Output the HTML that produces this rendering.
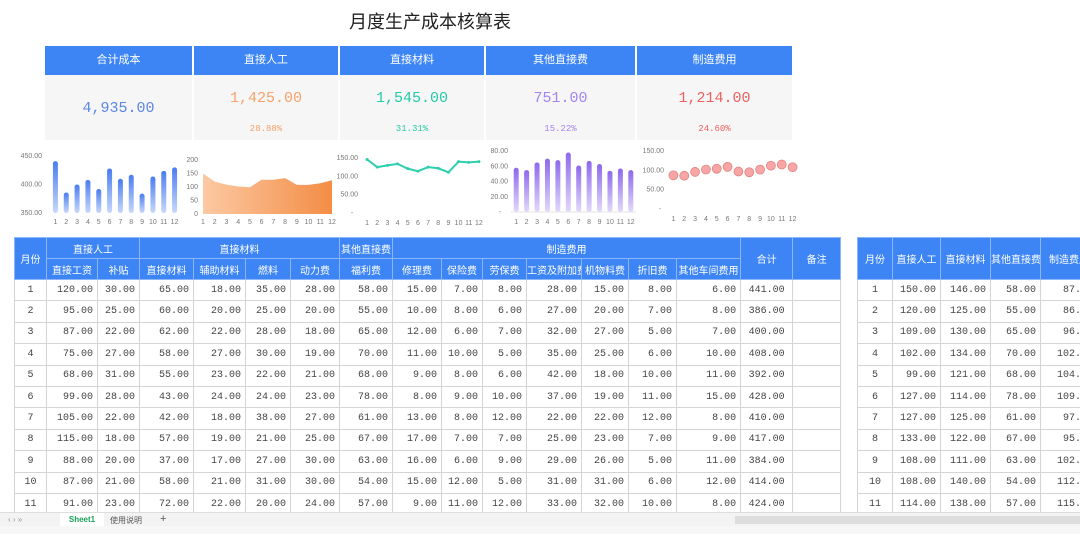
<!DOCTYPE html>
<html><head><meta charset="utf-8">
<style>
*{margin:0;padding:0;box-sizing:border-box}
body{width:1080px;height:534px;overflow:hidden;background:#fff;font-family:"Liberation Mono","Noto Sans CJK SC",monospace;position:relative}
.a{position:absolute}
.title{left:0;width:860px;top:8px;text-align:center;font:18px "Liberation Sans","Noto Sans CJK SC",sans-serif;color:#222}
.ch{background:#3d85f5;color:#fff;font:11px "Liberation Sans","Noto Sans CJK SC",sans-serif;text-align:center;line-height:29px;top:46px;height:29px}
.cv{background:#f6f6f6;top:75px;height:65px;text-align:center}
table{border-collapse:collapse;position:absolute;table-layout:fixed}
td,th{border:1px solid #d4d4d4;font-size:10px;height:21.4px;text-align:right;padding-right:4px;color:#444;white-space:nowrap;overflow:hidden}
th{background:#3d85f5;color:#fff;font-weight:normal;text-align:center;padding:0;border-color:#8db6fa;font-family:"Liberation Sans","Noto Sans CJK SC",sans-serif;height:21px}
td.c{text-align:center;padding:0}
</style></head><body>
<div class="a title">月度生产成本核算表</div>
<div id="cards"></div>
<svg id="charts" class="a" style="left:0;top:140px" width="860" height="95"></svg>
<table id="main" style="left:14px;top:237px;width:826px"></table>
<table id="side" style="left:857px;top:237px;width:240px"></table>
<div class="a" style="left:0;top:512px;width:1080px;height:14px;background:#f3f3f3;border-top:1px solid #ddd;font:8px 'Liberation Sans','Noto Sans CJK SC',sans-serif;color:#999">
<span class="a" style="left:8px;top:2px">‹ › »</span>
<span class="a" style="left:60px;top:0;width:44px;height:13px;background:#fff;color:#1aa35a;text-align:center;line-height:13px;font-weight:bold">Sheet1</span>
<span class="a" style="left:110px;top:2px;color:#555">使用说明</span>
<span class="a" style="left:160px;top:0;font-size:11px;color:#555">+</span>
<div class="a" style="left:735px;top:3px;width:345px;height:8px;background:#ddd"></div>
</div>
<div class="a" style="left:0;top:526px;width:1080px;height:8px;background:#f7f7f7"></div>
<script>
const NS='http://www.w3.org/2000/svg';
const months=['1','2','3','4','5','6','7','8','9','10','11','12'];
const totals=[441,386,400,408,392,428,410,417,384,414,424,430];
const labor=[150,120,109,102,99,127,127,133,108,108,114,125];
const material=[146,125,130,134,121,114,125,122,111,140,138,140];
const otherDirect=[58,55,65,70,68,78,61,67,63,54,57,55];
const manuf=[87,86,96,102,104,109,97,95,102,112,115,108];
const cardTitles=['合计成本','直接人工','直接材料','其他直接费','制造费用'];
const cardValues=['4,935.00','1,425.00','1,545.00','751.00','1,214.00'];
const cardPcts=['','28.88%','31.31%','15.22%','24.60%'];
const cardColors=['#5b86e5','#f5a26b','#25c9a8','#a385f0','#ef6060'];
const cardX=[[45,192],[194,338],[340,484],[486,635],[637,792]];
const cards=document.getElementById('cards');
cardTitles.forEach((t,i)=>{
 const h=document.createElement('div');h.className='a ch';
 h.style.left=cardX[i][0]+'px';h.style.width=(cardX[i][1]-cardX[i][0])+'px';h.textContent=t;
 
 
 cards.appendChild(h);
 const v=document.createElement('div');v.className='a cv';
 v.style.left=cardX[i][0]+'px';v.style.width=(cardX[i][1]-cardX[i][0])+'px';
 
 
 const big=cardPcts[i]?`<div style="position:absolute;top:15px;width:100%;font-size:15px;color:${cardColors[i]}">${cardValues[i]}</div><div style="position:absolute;top:49px;width:100%;font-size:9px;color:${cardColors[i]}">${cardPcts[i]}</div>`:`<div style="position:absolute;top:25px;width:100%;font-size:15px;color:${cardColors[i]}">${cardValues[i]}</div>`;
 v.innerHTML=big;cards.appendChild(v);
});
const svg=document.getElementById('charts');
function el(tag,attrs,parent){const e=document.createElementNS(NS,tag);for(const k in attrs)e.setAttribute(k,attrs[k]);(parent||svg).appendChild(e);return e;}
function txt(x,y,s,anchor){const t=el('text',{x:x,y:y,'font-size':7,fill:'#777','text-anchor':anchor||'middle','font-family':'Liberation Sans,sans-serif'});t.textContent=s;return t;}
const defs=el('defs',{});
defs.innerHTML='<linearGradient id="gb" x1="0" y1="0" x2="0" y2="1"><stop offset="0" stop-color="#4a7cf0"/><stop offset="1" stop-color="#c8d8fb"/></linearGradient><linearGradient id="go" x1="0" y1="0" x2="1" y2="0"><stop offset="0" stop-color="#fcc9a3"/><stop offset="1" stop-color="#f38d45"/></linearGradient><linearGradient id="gp" x1="0" y1="0" x2="0" y2="1"><stop offset="0" stop-color="#8d68ec"/><stop offset="1" stop-color="#e3d9fb"/></linearGradient>';
function axis(x0,x1,yT,yB,mn,mx){return {x:i=>x0+(i+0.5)*(x1-x0)/12,y:v=>yB-(v-mn)/(mx-mn)*(yB-yT)};}
function xlabels(a,y){months.forEach((m,i)=>txt(a.x(i),y,m));}
let A=axis(50,180,16,73,350,450);
[[450,'450.00'],[400,'400.00'],[350,'350.00']].forEach(t=>txt(42,A.y(t[0])+2,t[1],'end'));
totals.forEach((v,i)=>{const r=el('rect',{x:A.x(i)-2.5,y:A.y(v),width:5,height:73-A.y(v),rx:2.5,fill:'url(#gb)'});
});
xlabels(A,84);
A=axis(197,338,20,74,0,200);
[200,150,100,50,0].forEach(v=>txt(198,A.y(v)+2,String(v),'end'));
{const ax=i=>203+i*(332-203)/11;
let d='M'+ax(0)+' 74';labor.forEach((v,i)=>d+=' L'+ax(i)+' '+A.y(v));d+=' L'+ax(11)+' 74Z';
const p=el('path',{d:d,fill:'url(#go)'});
months.forEach((m,i)=>txt(ax(i),84,m));}
A=axis(362,484,18,73,0,150);
[[150,'150.00'],[100,'100.00'],[50,'50.00']].forEach(t=>txt(358,A.y(t[0])+2,t[1],'end'));txt(352,75,'-');
{let d='';material.forEach((v,i)=>d+=(i?' L':'M')+A.x(i)+' '+A.y(v));
const p=el('path',{d:d,fill:'none',stroke:'#2dcfae','stroke-width':2});
material.forEach((v,i)=>el('circle',{cx:A.x(i),cy:A.y(v),r:1.5,fill:'#2dcfae'}));}
xlabels(A,85);
A=axis(511,636,11,72,0,80);
[[80,'80.00'],[60,'60.00'],[40,'40.00'],[20,'20.00']].forEach(t=>txt(508,A.y(t[0])+2,t[1],'end'));txt(500,74,'-');
el('line',{x1:511,x2:636,y1:72,y2:72,stroke:'#ccc','stroke-width':0.5});
otherDirect.forEach((v,i)=>{const r=el('rect',{x:A.x(i)-2.5,y:A.y(v),width:5,height:72-A.y(v),rx:2.5,fill:'url(#gp)'});
});
xlabels(A,84);
A=axis(668,798,11,69,0,150);
[[150,'150.00'],[100,'100.00'],[50,'50.00']].forEach(t=>txt(664,A.y(t[0])+2,t[1],'end'));txt(660,71,'-');
manuf.forEach((v,i)=>{const c=el('circle',{cx:A.x(i),cy:A.y(v),r:4.5,fill:'#f7a5a5',stroke:'#e07c7c','stroke-width':0.7});
});
xlabels(A,81);
const rows=[[120,30,65,18,35,28,58,15,7,8,28,15,8,6,441],[95,25,60,20,25,20,55,10,8,6,27,20,7,8,386],[87,22,62,22,28,18,65,12,6,7,32,27,5,7,400],[75,27,58,27,30,19,70,11,10,5,35,25,6,10,408],[68,31,55,23,22,21,68,9,8,6,42,18,10,11,392],[99,28,43,24,24,23,78,8,9,10,37,19,11,15,428],[105,22,42,18,38,27,61,13,8,12,22,22,12,8,410],[115,18,57,19,21,25,67,17,7,7,25,23,7,9,417],[88,20,37,17,27,30,63,16,6,9,29,26,5,11,384],[87,21,58,21,31,30,54,15,12,5,31,31,6,12,414],[91,23,72,22,20,24,57,9,11,12,33,32,10,8,424]];
const widths=[32,51,42,54,52,45,49,53,49,41,44,55,47,48,64,52,48];
const f=v=>v.toFixed(2);
let h='<colgroup>'+widths.map(w=>`<col style="width:${w}px">`).join('')+'</colgroup>';
h+='<tr><th rowspan=2>月份</th><th colspan=2>直接人工</th><th colspan=4>直接材料</th><th>其他直接费</th><th colspan=7>制造费用</th><th rowspan=2>合计</th><th rowspan=2>备注</th></tr>';
h+='<tr>'+['直接工资','补贴','直接材料','辅助材料','燃料','动力费','福利费','修理费','保险费','劳保费','工资及附加费','机物料费','折旧费','其他车间费用'].map(s=>`<th>${s}</th>`).join('')+'</tr>';
rows.forEach((r,i)=>{h+=`<tr><td class="c">${i+1}</td>`+r.map((v,j)=>`<td${j==14?' class="c"':''}>${f(v)}</td>`).join('')+'<td></td></tr>';});
document.getElementById('main').innerHTML=h;
const side=[[150,146,58,87],[120,125,55,86],[109,130,65,96],[102,134,70,102],[99,121,68,104],[127,114,78,109],[127,125,61,97],[133,122,67,95],[108,111,63,102],[108,140,54,112],[114,138,57,115]];
let s='<colgroup><col style="width:35px"><col style="width:48px"><col style="width:50px"><col style="width:50px"><col style="width:57px"></colgroup>';
s+='<tr><th style="height:42px">月份</th><th>直接人工</th><th>直接材料</th><th>其他直接费</th><th>制造费用</th></tr>';
side.forEach((r,i)=>{s+=`<tr><td class="c">${i+1}</td>`+r.map(v=>`<td>${f(v)}</td>`).join('')+'</tr>';});
document.getElementById('side').innerHTML=s;
</script>
</body></html>
